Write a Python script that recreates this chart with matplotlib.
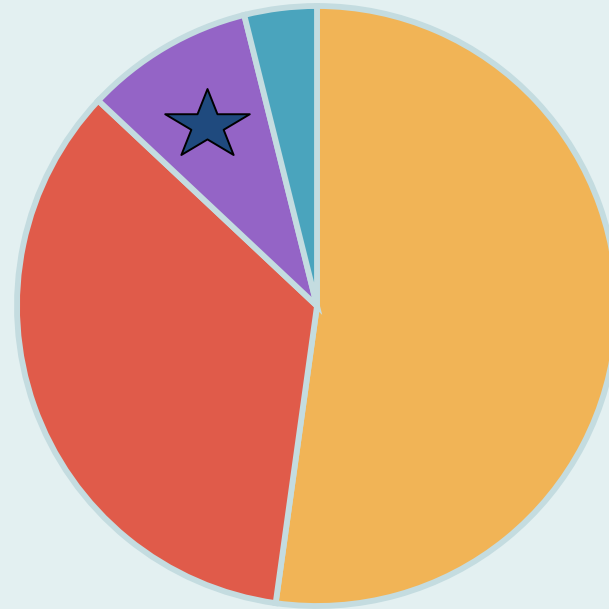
import matplotlib
matplotlib.use("Agg")
import matplotlib.pyplot as plt
from matplotlib.markers import MarkerStyle
from matplotlib.transforms import Affine2D

# Slice shares, clockwise from twelve o'clock
labels = ["Orange", "Red", "Purple", "Teal"]
shares = [52.2, 34.8, 9.1, 3.9]
colors = ["#f1b456", "#e05b4a", "#9464c6", "#4aa4bd"]

fig = plt.figure(figsize=(6.09, 6.09), dpi=100, facecolor="#e3f0f1")
ax = fig.add_axes([0, 0, 1, 1])
ax.set_facecolor("#e3f0f1")

# Big pie, running off the right edge a little
ax.pie(shares, colors=colors, startangle=90, counterclock=False,
       center=(317, 303), radius=300, frame=True,
       wedgeprops=dict(edgecolor="#c4dce0", linewidth=4.2))
ax.set_xlim(0, 609)
ax.set_ylim(0, 609)
ax.set_aspect("equal")
ax.axis("off")

# Star badge in the purple slice (slightly flattened)
star = MarkerStyle("*", transform=Affine2D().scale(1.0, 0.82))
ax.scatter([207], [484], marker=star, s=4100, color="#1f4a7e",
           edgecolor="black", linewidth=1.4, zorder=5)

fig.savefig("out.png", dpi=100, facecolor=fig.get_facecolor())
